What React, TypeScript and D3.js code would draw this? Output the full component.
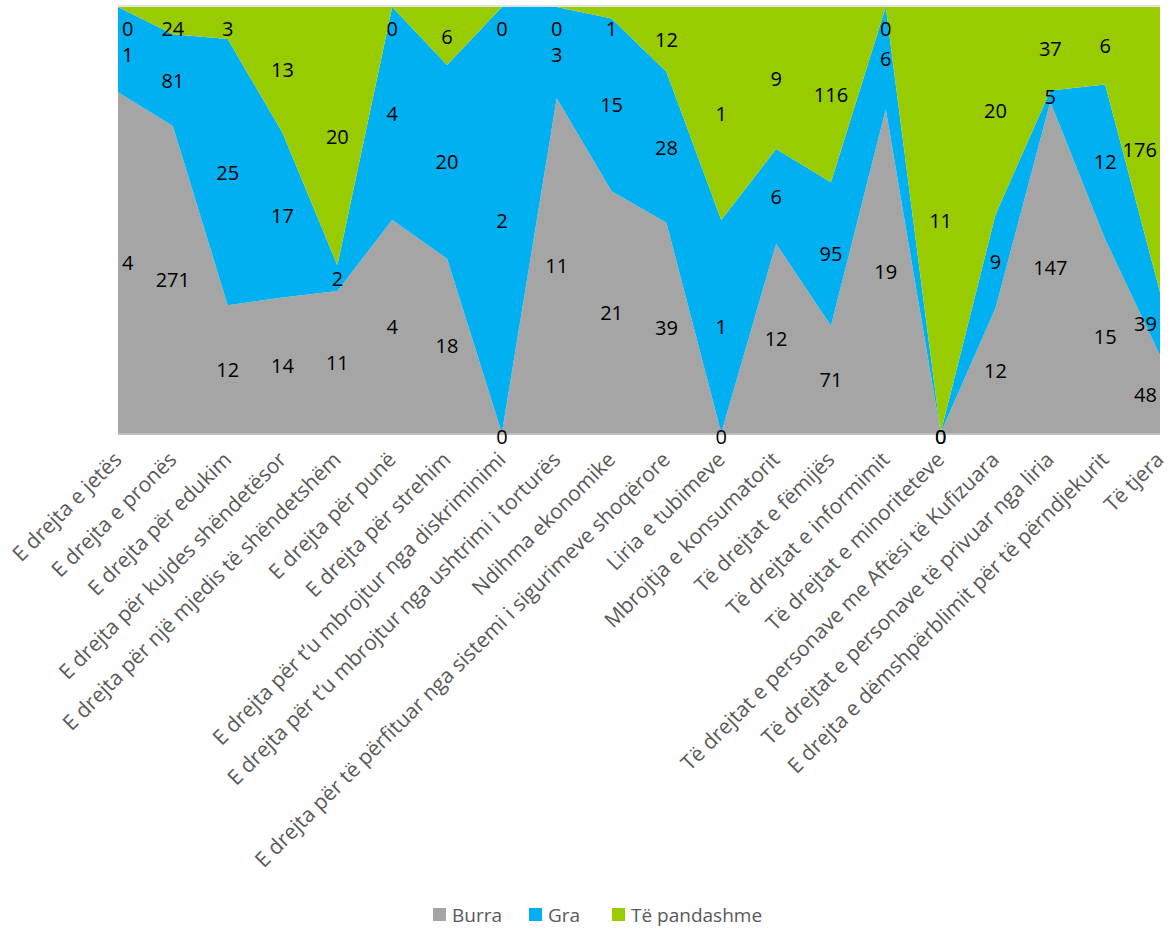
import React from "react";
import * as d3 from "d3";

const categories = [
  "E drejta e jetës",
  "E drejta e pronës",
  "E drejta për edukim",
  "E drejta për kujdes shëndetësor",
  "E drejta për një mjedis të shëndetshëm",
  "E drejta për punë",
  "E drejta për strehim",
  "E drejta për t’u mbrojtur nga diskriminimi",
  "E drejta për t’u mbrojtur nga ushtrimi i torturës",
  "Ndihma ekonomike",
  "E drejta për të përfituar nga sistemi i sigurimeve shoqërore",
  "Liria e tubimeve",
  "Mbrojtja e konsumatorit",
  "Të drejtat e fëmijës",
  "Të drejtat e informimit",
  "Të drejtat e minoriteteve",
  "Të drejtat e personave me Aftësi të Kufizuara",
  "Të drejtat e personave të privuar nga liria",
  "E drejta e dëmshpërblimit për të përndjekurit",
  "Të tjera",
];

const burra = [4, 271, 12, 14, 11, 4, 18, 0, 11, 21, 39, 0, 12, 71, 19, 0, 12, 147, 15, 48];
const gra = [1, 81, 25, 17, 2, 4, 20, 2, 3, 15, 28, 1, 6, 95, 6, 0, 9, 5, 12, 39];
const pandashme = [0, 24, 3, 13, 20, 0, 6, 0, 0, 1, 12, 1, 9, 116, 0, 11, 20, 37, 6, 176];

const seriesNames = ["Burra", "Gra", "Të pandashme"];
const seriesColors = ["#A5A5A5", "#00B0F0", "#99CC00"];

const W = 1173;
const H = 930;
const left = 118;
const right = 1160;
const top = 7;
const bottom = 433;
const FONT = "'Open Sans', 'DejaVu Sans', sans-serif";

export default function App() {
  const rows = categories.map((c, i) => ({
    cat: c,
    Burra: burra[i],
    Gra: gra[i],
    "Të pandashme": pandashme[i],
  }));
  const stack = d3.stack<any>().keys(seriesNames).offset(d3.stackOffsetExpand);
  const layers = stack(rows);

  const x = d3.scalePoint<string>().domain(categories).range([left, right]);
  const y = d3.scaleLinear().domain([0, 1]).range([bottom, top]);

  const area = d3
    .area<any>()
    .x((d) => x(d.data.cat) as number)
    .y0((d) => y(isNaN(d[0]) ? 0 : d[0]))
    .y1((d) => y(isNaN(d[1]) ? 0 : d[1]))
    .curve(d3.curveLinear);

  const labels: any[] = [];
  categories.forEach((cat, ci) => {
    let prevCy = -Infinity;
    for (let si = seriesNames.length - 1; si >= 0; si--) {
      const d: any = layers[si][ci];
      const v = (d.data as any)[seriesNames[si]];
      const y0 = y(isNaN(d[0]) ? 0 : d[0]);
      const y1 = y(isNaN(d[1]) ? 0 : d[1]);
      let cy = (y0 + y1) / 2;
      if (cy < top + 21) cy = top + 21;
      if (cy > bottom - 2) cy = bottom + 3;
      else if (cy < prevCy + 26) cy = prevCy + 26;
      prevCy = cy;
      const txt = String(v);
      const w = txt.length * 11.5;
      let cx = x(cat) as number;
      cx = Math.max(cx, left + w / 2 + 4);
      cx = Math.min(cx, right - w / 2 - 3);
      labels.push({ key: `${si}-${ci}`, cx, cy, txt });
    }
  });

  const legendItems = [
    { name: "Burra", x: 433 },
    { name: "Gra", x: 529 },
    { name: "Të pandashme", x: 612 },
  ];

  return (
    <svg
      width={W}
      height={H}
      style={{ position: "absolute", left: 0, top: 0, background: "#fff" }}
      fontFamily={FONT}
    >
      <line x1={left} x2={right} y1={top - 1} y2={top - 1} stroke="#D9D9D9" strokeWidth={1.5} />
      {layers.map((layer, si) => (
        <path key={si} d={area(layer as any) || ""} fill={seriesColors[si]} />
      ))}
      <line x1={left} x2={right} y1={bottom + 1} y2={bottom + 1} stroke="#BFBFBF" strokeWidth={2} />
      {labels.map((l) => (
        <text
          key={l.key}
          x={l.cx}
          y={l.cy}
          textAnchor="middle"
          dominantBaseline="central"
          fontSize={20}
          fill="#000"
        >
          {l.txt}
        </text>
      ))}
      {categories.map((c) => {
        const px = (x(c) as number) + 5;
        const py = bottom + 28;
        return (
          <text
            key={c}
            x={px}
            y={py}
            textAnchor="end"
            fontSize={21}
            fill="#595959"
            transform={`rotate(-45 ${px} ${py})`}
          >
            {c}
          </text>
        );
      })}
      {legendItems.map((it, i) => (
        <g key={it.name}>
          <rect x={it.x} y={908} width={13} height={13} fill={seriesColors[i]} />
          <text x={it.x + 19} y={915} dominantBaseline="central" fontSize={19} fill="#595959">
            {it.name}
          </text>
        </g>
      ))}
    </svg>
  );
}
